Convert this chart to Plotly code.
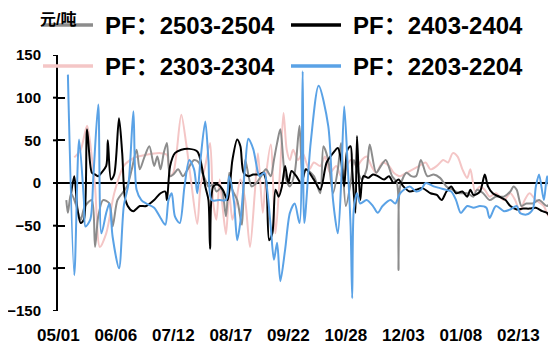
import plotly.graph_objects as go

# ---------------- data ----------------
tick_days = [0, 36, 72, 108, 144, 180, 216, 252, 288]
tick_labels = ["05/01", "06/06", "07/12", "08/17", "09/22", "10/28", "12/03", "01/08", "02/13"]
y_ticks = [-150, -100, -50, 0, 50, 100, 150]
unit_label = "元/吨"

names = ["PF：2503-2504", "PF：2403-2404", "PF：2303-2304", "PF：2203-2204"]
colors = ["#8C8C8C", "#000000", "#F4C6C6", "#5AA2E6"]

# day offsets from 05/01 and spread values (元/吨)
days_2503 = [5, 6, 8, 11, 14, 16, 18, 21, 23, 25, 28, 32, 34, 37, 40, 43, 46, 49, 51, 54,
             57, 60, 62, 64, 66, 68, 70, 72, 75, 78, 81, 85, 88, 90, 92, 94, 97, 99, 102, 105,
             107, 109, 112, 115, 117, 121, 124, 127, 130, 133, 135, 137, 139, 142, 145, 148, 151, 153, 155, 160,
             164, 166, 169, 172, 175, 177, 180, 183, 185, 187, 190, 193, 195, 199, 202, 205, 209, 212, 213, 214,
             218, 221, 224, 227, 231, 235, 239, 243, 247, 251, 256, 260, 262, 266, 270, 274, 279, 283, 285, 287,
             290, 293, 297, 301, 306, 309, 312]
vals_2503 = [-20, -35, -12, -25, -43, -30, -24, -20, -75, -39, -20, -24, -51, -20, -12, -4, 16, 39, 16, 31,
             43, 20, 31, 16, 35, 47, 8, 10, 16, 8, 16, 27, 24, 12, 4, -4, -2, -10, -6, -39,
             12, -8, -20, -49, 27, -4, 0, 8, 16, 8, 27, 47, 63, 8, -4, 12, 67, 4, 16, 8,
             -12, 43, 27, -12, 16, 47, -27, 0, 27, 16, 4, 16, 45, 12, 20, 27, 8, 0, -102, -4,
             12, 8, 8, 27, 8, 10, 6, -4, -8, -12, -12, -16, -8, -12, -20, -16, -16, -10, -4, -8,
             -27, -24, -24, -20, -27, -20, -20]

days_2403 = [8, 10, 12, 14, 16, 18, 21, 23, 25, 27, 30, 31, 33, 35, 38, 40, 42, 45, 47, 51,
             55, 60, 64, 67, 68, 70, 73, 77, 82, 87, 89, 92, 94, 95, 97, 100, 103, 106, 109, 112,
             114, 116, 119, 122, 126, 128, 130, 132, 134, 136, 138, 140, 142, 144, 146, 149, 152, 155, 160, 164,
             168, 172, 175, 177, 179, 181, 183, 184, 186, 187, 189, 191, 194, 197, 200, 204, 207, 210, 213, 216,
             220, 224, 228, 233, 237, 240, 243, 246, 249, 253, 256, 258, 260, 264, 267, 269, 272, 276, 280, 283,
             287, 291, 295, 299, 303, 306, 309, 312]
vals_2403 = [-12, 8, -31, -47, -43, 63, 12, 10, 8, 12, 20, 50, 4, 10, 76, 35, -20, -31, -33, -27,
             -27, -20, -12, -10, -20, 20, 35, 39, 40, 37, 27, -4, -20, -77, -4, -2, -8, -20, 27, 51,
             43, 12, 8, 10, 10, 12, 4, -67, -59, -8, -16, -4, 20, 0, 14, 8, 0, 16, 4, -8,
             24, 35, 41, 27, -4, 39, 43, 16, -35, 55, -20, 8, 6, 10, 8, 4, 8, 0, 4, -4,
             -10, -8, -6, -12, -14, -20, -10, -4, -12, -10, -16, -8, -14, -10, 10, -4, -12, -16, -20, -27,
             -31, -30, -30, -29, -33, -35, -43, -47]

days_2303 = [10, 14, 18, 21, 23, 26, 30, 35, 41, 47, 55, 64, 68, 70, 72, 74, 77, 80, 83, 87,
             89, 92, 95, 97, 99, 101, 103, 105, 107, 109, 111, 114, 117, 120, 123, 125, 128, 130, 133, 136,
             139, 141, 143, 145, 147, 150, 153, 157, 160, 164, 167, 170, 174, 177, 179, 183, 187, 190, 193, 196,
             199, 203, 207, 210, 214, 218, 222, 226, 230, 233, 237, 241, 244, 247, 250, 253, 256, 258, 261, 264,
             267, 270, 274, 279, 283, 286, 289, 292, 295, 299, 304, 307, 310, 312]
vals_2303 = [30, 39, 67, 30, -4, -75, -59, -12, 20, 29, 33, 35, 33, 8, 12, 35, 80, 47, 4, -48,
             -4, 20, 47, -24, -43, 4, -31, -60, -12, -43, -27, 4, -20, -75, -12, 35, -35, 8, 45, -59,
             20, 82, 39, 27, 39, 27, 35, 16, 24, 20, 31, 12, 20, 8, 12, 27, 20, 27, 31, 20,
             12, 24, 20, 12, 8, 12, 16, 20, 24, 16, 20, 27, 24, 35, 31, 16, 6, 16, -10, -4,
             -8, -16, -12, -20, -12, -20, -33, -20, -12, -20, -27, -39, -31, -25]

days_2203 = [6, 10, 13, 16, 17, 20, 22, 25, 27, 30, 32, 34, 38, 41, 44, 47, 49, 52, 55, 60,
             64, 67, 69, 71, 73, 76, 79, 82, 85, 87, 89, 92, 94, 96, 101, 105, 107, 110, 112, 114,
             117, 119, 122, 125, 126, 129, 131, 133, 135, 137, 139, 142, 145, 148, 151, 153, 154, 158, 163, 169,
             172, 175, 177, 179, 181, 183, 184, 185, 187, 189, 193, 197, 200, 203, 208, 211, 214, 220, 224, 227,
             230, 235, 239, 243, 246, 249, 252, 256, 260, 264, 268, 270, 274, 279, 283, 287, 289, 293, 297, 299,
             301, 304, 306, 308, 310, 312]
vals_2203 = [127, -108, 51, -20, -51, -43, 10, 92, -59, -35, -24, -63, -100, -27, 0, 84, -8, -20, -24, -29,
             -41, -49, -20, -12, -39, -47, -4, 27, 16, -12, 27, 72, 27, -20, -20, -20, 8, -22, -67, -45,
             20, 52, 40, 12, 8, 12, -12, -51, -90, -70, -115, -78, -35, -24, -47, 131, -47, 47, 114, 67,
             -20, -59, -4, 90, 27, -51, -135, -31, -12, -24, -20, -27, -35, -27, -20, -24, -12, -4, -10, -8,
             0, -4, -6, -8, -10, -20, -35, -27, -29, -27, -29, -41, -27, -33, -31, -27, -35, -37, -31, -4,
             10, -20, 8, -12, 10, -4]

series_days = [days_2503, days_2403, days_2303, days_2203]
series_vals = [vals_2503, vals_2403, vals_2303, vals_2203]

# ---------------- geometry (page pixels; the page body has an 8px margin) ----------------
OFF = 8
W, H = 556 - OFF, 351 - OFF
ML, MR, MT, MB = 58 - OFF, 0, 55 - OFF, 40
PW, PH = W - ML - MR, H - MT - MB


def px(x):
    return (x - OFF - ML) / PW


def py(y):
    return (H - MB - (y - OFF)) / PH


FONT = "Liberation Sans, Arial, Noto Sans CJK SC, sans-serif"

fig = go.Figure()
draw_order = [2, 0, 1, 3]  # pink at bottom, blue on top
for i in draw_order:
    fig.add_trace(go.Scatter(
        x=series_days[i], y=series_vals[i], name=names[i], mode="lines",
        line=dict(color=colors[i], width=2, shape="spline", smoothing=0.8),
        showlegend=False, hoverinfo="skip",
    ))

shapes = []
# outer part of the crossing y ticks
for v in y_ticks:
    shapes.append(dict(type="line", xref="paper", yref="y", x0=px(53), x1=px(58), y0=v, y1=v,
                       line=dict(color="black", width=2)))

# manual legend (2 x 2)
leg_rows = [25, 66]
leg_line_x = [(43, 93), (291, 341)]
leg_text_x = [103, 351]
annotations = []
for k in range(4):
    r, c = divmod(k, 2)
    x0, x1 = leg_line_x[c]
    shapes.append(dict(type="line", xref="paper", yref="paper", x0=px(x0), x1=px(x1),
                       y0=py(leg_rows[r]), y1=py(leg_rows[r]),
                       line=dict(color=colors[k], width=3.5)))
    annotations.append(dict(text=names[k], xref="paper", yref="paper", x=px(leg_text_x[c]),
                            y=py(leg_rows[r]), xanchor="left", yanchor="middle", showarrow=False,
                            font=dict(family=FONT, size=24, color="black", weight="bold")))

annotations.append(dict(text=unit_label, xref="paper", yref="paper", x=px(58), y=py(19),
                        xanchor="center", yanchor="middle", showarrow=False,
                        font=dict(family=FONT, size=16, color="black", weight="bold")))

fig.update_layout(
    width=W, height=H,
    margin=dict(l=ML, r=MR, t=MT, b=MB, autoexpand=False),
    paper_bgcolor="white", plot_bgcolor="white",
    shapes=shapes, annotations=annotations,
    xaxis=dict(range=[-0.2, 311.6], tickvals=tick_days, ticktext=tick_labels,
               showgrid=False, zeroline=False, showline=False, ticks="",
               ticklabelstandoff=12,
               tickfont=dict(family=FONT, size=17, color="black", weight="bold")),
    yaxis=dict(range=[-150, 150], tickvals=y_ticks, showgrid=False,
               zeroline=True, zerolinecolor="black", zerolinewidth=2,
               showline=True, linecolor="black", linewidth=2,
               ticks="inside", ticklen=7, tickwidth=2, tickcolor="black",
               ticklabelstandoff=12,
               tickfont=dict(family=FONT, size=15, color="black", weight="bold")),
)

fig.write_html("out.html")
